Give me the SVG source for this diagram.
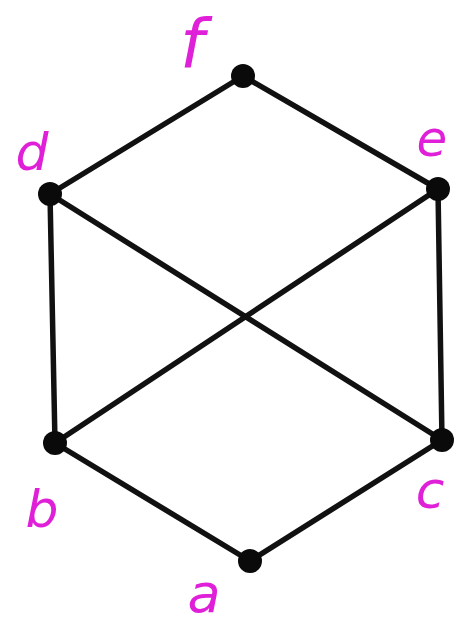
<svg xmlns="http://www.w3.org/2000/svg" width="456" height="625" viewBox="0 0 456 625">
<style>
.edge{stroke:#111;stroke-width:5.5;stroke-linecap:round;fill:none}
.node{fill:#0a0a0a}
.lbl{fill:#e020d8;font-family:"DejaVu Sans","Liberation Sans",sans-serif;font-style:italic;text-anchor:middle}
</style>
<rect width="456" height="625" fill="#fff"/>
<g id="connectors">
<line class="edge" x1="243" y1="76" x2="50" y2="194"/>
<line class="edge" x1="243" y1="76" x2="438" y2="189"/>
<line class="edge" x1="50" y1="194" x2="55" y2="443"/>
<line class="edge" x1="438" y1="189" x2="442" y2="440"/>
<line class="edge" x1="50" y1="194" x2="442" y2="440"/>
<line class="edge" x1="438" y1="189" x2="55" y2="443"/>
<line class="edge" x1="55" y1="443" x2="250" y2="561"/>
<line class="edge" x1="442" y1="440" x2="250" y2="561"/>
</g>
<g id="node-f"><circle class="node" cx="243" cy="76" r="12"/><text class="lbl" x="192" y="68" font-size="68">f</text></g>
<g id="node-d"><circle class="node" cx="50" cy="194" r="12"/><text class="lbl" x="32" y="170" font-size="52">d</text></g>
<g id="node-e"><circle class="node" cx="438" cy="189" r="12"/><text class="lbl" x="432" y="156" font-size="50">e</text></g>
<g id="node-b"><circle class="node" cx="55" cy="443" r="12"/><text class="lbl" x="42" y="527" font-size="52">b</text></g>
<g id="node-c"><circle class="node" cx="442" cy="440" r="12"/><text class="lbl" x="430" y="508" font-size="52">c</text></g>
<g id="node-a"><circle class="node" cx="250" cy="561" r="12"/><text class="lbl" x="204" y="612" font-size="54">a</text></g>
</svg>
